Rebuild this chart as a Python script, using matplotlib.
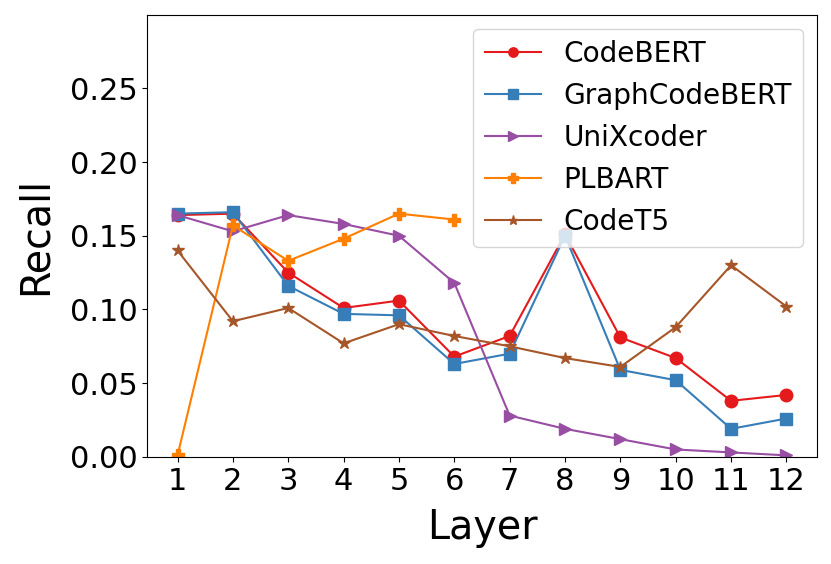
import numpy as np
import matplotlib.pyplot as plt

layers = list(range(1, 13))

codebert = [0.164, 0.165, 0.125, 0.101, 0.106, 0.068, 0.082, 0.151, 0.081, 0.067, 0.038, 0.042]
graphcodebert = [0.165, 0.166, 0.116, 0.097, 0.096, 0.063, 0.070, 0.150, 0.059, 0.052, 0.019, 0.026]
unixcoder = [0.164, 0.153, 0.164, 0.158, 0.150, 0.118, 0.028, 0.019, 0.012, 0.005, 0.003, 0.001]
plbart = [0.001, 0.157, 0.133, 0.148, 0.165, 0.161]
codet5 = [0.140, 0.092, 0.101, 0.077, 0.090, 0.082, 0.075, 0.067, 0.061, 0.088, 0.130, 0.102]

fig = plt.figure(figsize=(8.31, 5.64), dpi=100)
ax = fig.add_axes([0.177, 0.19, 0.806, 0.784])

ax.plot(layers, codebert, color='#e41a1c', marker='o', ms=9, lw=1.5, label='CodeBERT')
ax.plot(layers, graphcodebert, color='#377eb8', marker='s', ms=9, lw=1.5, label='GraphCodeBERT')
ax.plot(layers, unixcoder, color='#984ea3', marker='>', ms=9, lw=1.5, label='UniXcoder')
ax.plot(layers[:6], plbart, color='#ff7f00', marker='P', ms=9, lw=1.5, label='PLBART')
ax.plot(layers, codet5, color='#a65628', marker='*', ms=9, lw=1.5, label='CodeT5')

ax.set_ylim(0, 0.3)
ax.set_yticks([0.0, 0.05, 0.10, 0.15, 0.20, 0.25])
ax.set_xticks(layers)
ax.tick_params(labelsize=22)
ax.set_xlabel('Layer', fontsize=28.5, labelpad=9)
ax.set_ylabel('Recall', fontsize=28.5, labelpad=10)
ax.legend(loc='upper right', fontsize=20.2, markerscale=0.75)

fig.savefig('out.png', dpi=100)
